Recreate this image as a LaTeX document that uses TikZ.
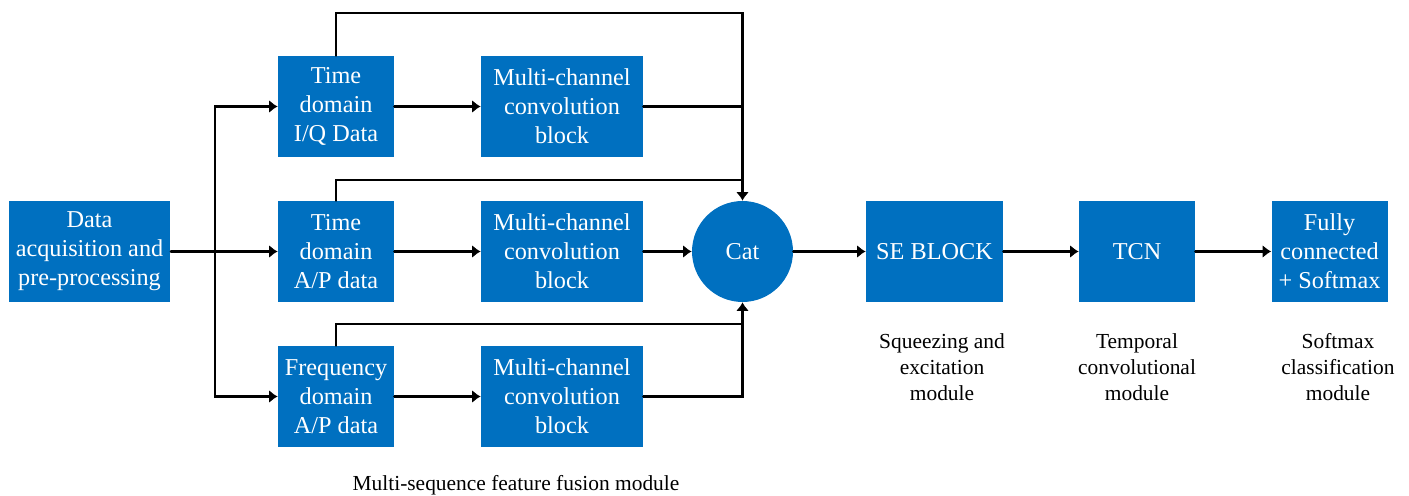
\documentclass[tikz,border=0pt]{standalone}
\usepackage{fontspec}
\setmainfont{Liberation Serif}
\usepackage{tikz}
\usetikzlibrary{arrows.meta}

\begin{document}
\begin{tikzpicture}
		[x=0.02cm,y=-0.02cm,line cap=round,>={Latex[length=0.17cm,width=0.26cm]},
		%Styles
		block/.style={fill=boxblue,text=white,align=center,inner sep=0pt,
			minimum width=2.32cm,minimum height=2.02cm,font=\fontsize{13.8}{16.5}\selectfont},
		wide block/.style={block,minimum width=3.24cm},
		merge/.style={circle,fill=boxblue,text=white,minimum size=2.02cm,inner sep=0pt,
			font=\fontsize{13.8}{16.5}\selectfont},
		caption text/.style={align=center,font=\fontsize{12.2}{14.8}\selectfont},
		link/.style={line width=1.3pt},
		flow/.style={link,->}
		]
		
		%Colors
		\definecolor{boxblue}{RGB}{0,112,192}	%block fill
		
		\useasboundingbox (0,0) rectangle (1409,496);
		
		%The graphic
		\node[wide block] (data) at (89.5,251.5) {Data\\acquisition and\\pre-processing};
		
		\node[block] (tiq) at (336,106.5) {Time\\domain\\I/Q Data};
		\node[block] (tap) at (336,251.5) {Time\\domain\\A/P data};
		\node[block] (fap) at (336,396.5) {Frequency\\domain\\A/P data};
		
		\node[wide block] (mc1) at (562,106.5) {Multi-channel\\convolution\\block};
		\node[wide block] (mc2) at (562,251.5) {Multi-channel\\convolution\\block};
		\node[wide block] (mc3) at (562,396.5) {Multi-channel\\convolution\\block};
		
		\node[merge] (cat) at (742.5,251.5) {Cat};
		
		\node[block,minimum width=2.74cm] (se) at (934.5,251.5) {SE BLOCK};
		\node[block] (tcn) at (1137,251.5) {TCN};
		\node[block] (fc) at (1329.5,251.5) {Fully\\connected\\+ Softmax};
		
		\node[caption text] (secap) at (942,367) {Squeezing and\\excitation\\module};
		\node[caption text] (tcncap) at (1137,367) {Temporal\\convolutional\\module};
		\node[caption text] (fccap) at (1338,367) {Softmax\\classification\\module};
		\node[caption text] (fusecap) at (516,485) {Multi-sequence feature fusion module};
		
		\coordinate (split) at (215,251.5);
		\coordinate (topbus) at (0,13);
		\coordinate (midbus) at (0,180);
		\coordinate (lowbus) at (0,324);
		
		\draw[flow] (data) -- (tap);
		\draw[flow] (split) |- (tiq);
		\draw[flow] (split) |- (fap);
		
		\draw[flow] (tiq) -- (mc1);
		\draw[flow] (tap) -- (mc2);
		\draw[flow] (fap) -- (mc3);
		
		\draw[flow] (tiq.north) -- (tiq.north |- topbus) -| (cat.north);
		\draw[link] (mc1.east) -- (mc1.east -| cat.north);
		\draw[link] (tap.north) |- (midbus -| cat.north);
		\draw[link] (fap.north) |- (lowbus -| cat.south);
		\draw[flow] (mc3.east) -| (cat.south);
		\draw[flow] (mc2) -- (cat);
		
		\draw[flow] (cat) -- (se);
		\draw[flow] (se) -- (tcn);
		\draw[flow] (tcn) -- (fc);
	\end{tikzpicture}
\end{document}
